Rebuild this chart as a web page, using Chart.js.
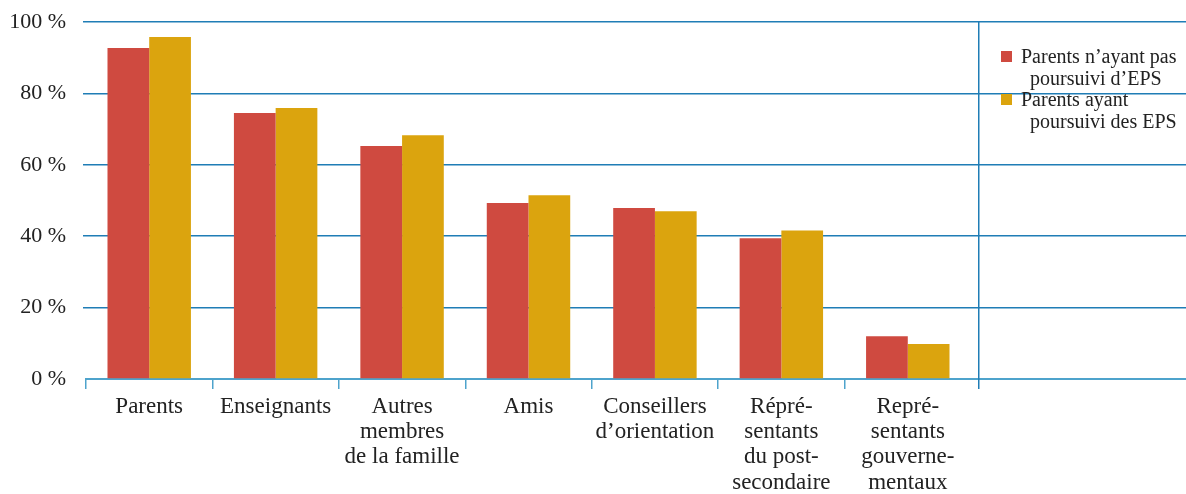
<!DOCTYPE html>
<html>
<head>
<meta charset="utf-8">
<script src="https://cdn.jsdelivr.net/npm/chart.js@4"></script>
<style>
  body { margin: 0; background: #fff; }
  #wrap { position: relative; width: 1186px; height: 494px; }
  #legend {
    position: absolute; left: 1001px; top: 46px;
    font-family: "Liberation Serif", serif; font-size: 20px; line-height: 21.5px; color: #222;
  }
  .item { position: relative; padding-left: 20px; }
  .item .sw { position: absolute; left: 0; top: 5px; width: 11px; height: 11px; }
  .item .l2 { padding-left: 9px; }
</style>
</head>
<body>
<div id="wrap">
  <canvas id="chart" width="1186" height="494"></canvas>
  <div id="legend"></div>
</div>
<script>
// categories (multi-line labels as in the original)
const categories = [
    ['Parents'],
    ['Enseignants'],
    ['Autres', 'membres', 'de la famille'],
    ['Amis'],
    ['Conseillers', 'd’orientation'],
    ['Répré-', 'sentants', 'du post-', 'secondaire'],
    ['Repré-', 'sentants', 'gouverne-', 'mentaux']
];

// percentages
const parentsNoEps = [92.7, 74.5, 65.3, 49.3, 47.9, 39.4, 12.0];
const parentsEps = [95.8, 75.9, 68.3, 51.5, 47.0, 41.6, 9.8];

const legendLines = [
    ['Parents n’ayant pas', 'poursuivi d’EPS'],
    ['Parents ayant', 'poursuivi des EPS']
];

const yTicks = [0, 20, 40, 60, 80, 100];

const RED = '#cf4a40';
const YELLOW = '#dba40e';
const GRID = '#1f7db6';
const AXIS = '#4ea3cc';

// Build the legend
const legend = document.getElementById('legend');
[RED, YELLOW].forEach((color, i) => {
    const item = document.createElement('div');
    item.className = 'item';
    item.innerHTML = `<span class="sw" style="background:${color}"></span>
        <div>${legendLines[i][0]}</div><div class="l2">${legendLines[i][1]}</div>`;
    legend.appendChild(item);
});

// same pixel snapping as Chart.js uses for its own grid lines
const align = (px, w) => Math.round(px - w / 2) + w / 2;

// Extend the horizontal grid lines into the legend area and draw the separator
const SEP_GAP = 8;
const extendGrid = {
    id: 'extendGrid',
    afterDraw(chart) {
        const ctx = chart.ctx;
        const area = chart.chartArea;
        const y = chart.scales.y;
        ctx.save();
        yTicks.forEach(v => {
            const w = v === 0 ? 2 : 1.5;
            const py = align(y.getPixelForValue(v), w);
            ctx.beginPath();
            ctx.strokeStyle = v === 0 ? AXIS : GRID;
            ctx.lineWidth = w;
            ctx.moveTo(area.right, py);
            ctx.lineTo(chart.width, py);
            ctx.stroke();
        });
        const sx = align(area.right + SEP_GAP, 1.5);
        ctx.beginPath();
        ctx.strokeStyle = GRID;
        ctx.lineWidth = 1.5;
        ctx.moveTo(sx, y.getPixelForValue(100));
        ctx.lineTo(sx, y.getPixelForValue(0) + 10);
        ctx.stroke();
        ctx.restore();
    }
};

new Chart(document.getElementById('chart'), {
    type: 'bar',
    data: {
        labels: categories,
        datasets: [{
            label: legendLines[0].join(' '),
            data: parentsNoEps,
            backgroundColor: RED
        }, {
            label: legendLines[1].join(' '),
            data: parentsEps,
            backgroundColor: YELLOW
        }]
    },
    options: {
        responsive: false,
        animation: false,
        categoryPercentage: 0.66,
        barPercentage: 1.0,
        layout: { padding: { top: 22, right: 215, left: 0, bottom: 0 } },
        plugins: {
            legend: { display: false },
            tooltip: { enabled: false }
        },
        scales: {
            x: {
                grid: {
                    offset: true,
                    drawOnChartArea: false,
                    color: ctx => ctx.tick ? AXIS : 'rgba(0,0,0,0)',
                    lineWidth: 1.5,
                    tickLength: 10
                },
                border: { color: AXIS, width: 2 },
                ticks: {
                    color: '#222',
                    maxRotation: 0,
                    autoSkip: false,
                    padding: 5,
                    font: { family: 'Liberation Serif', size: 23, lineHeight: 1.1 }
                },
                afterFit(scale) { scale.height = 115; }
            },
            y: {
                min: 0,
                max: 100,
                ticks: {
                    stepSize: 20,
                    color: '#222',
                    padding: 17,
                    font: { family: 'Liberation Serif', size: 22 },
                    callback: v => v + ' %'
                },
                grid: {
                    color: ctx => ctx.tick && ctx.tick.value === 0 ? 'rgba(0,0,0,0)' : GRID,
                    lineWidth: 1.5,
                    tickLength: 3
                },
                border: { display: false },
                afterFit(scale) {
                    scale.width = 86;
                    scale.paddingTop = 0;
                    scale.paddingBottom = 0;
                }
            }
        }
    },
    plugins: [extendGrid]
});
</script>
</body>
</html>
